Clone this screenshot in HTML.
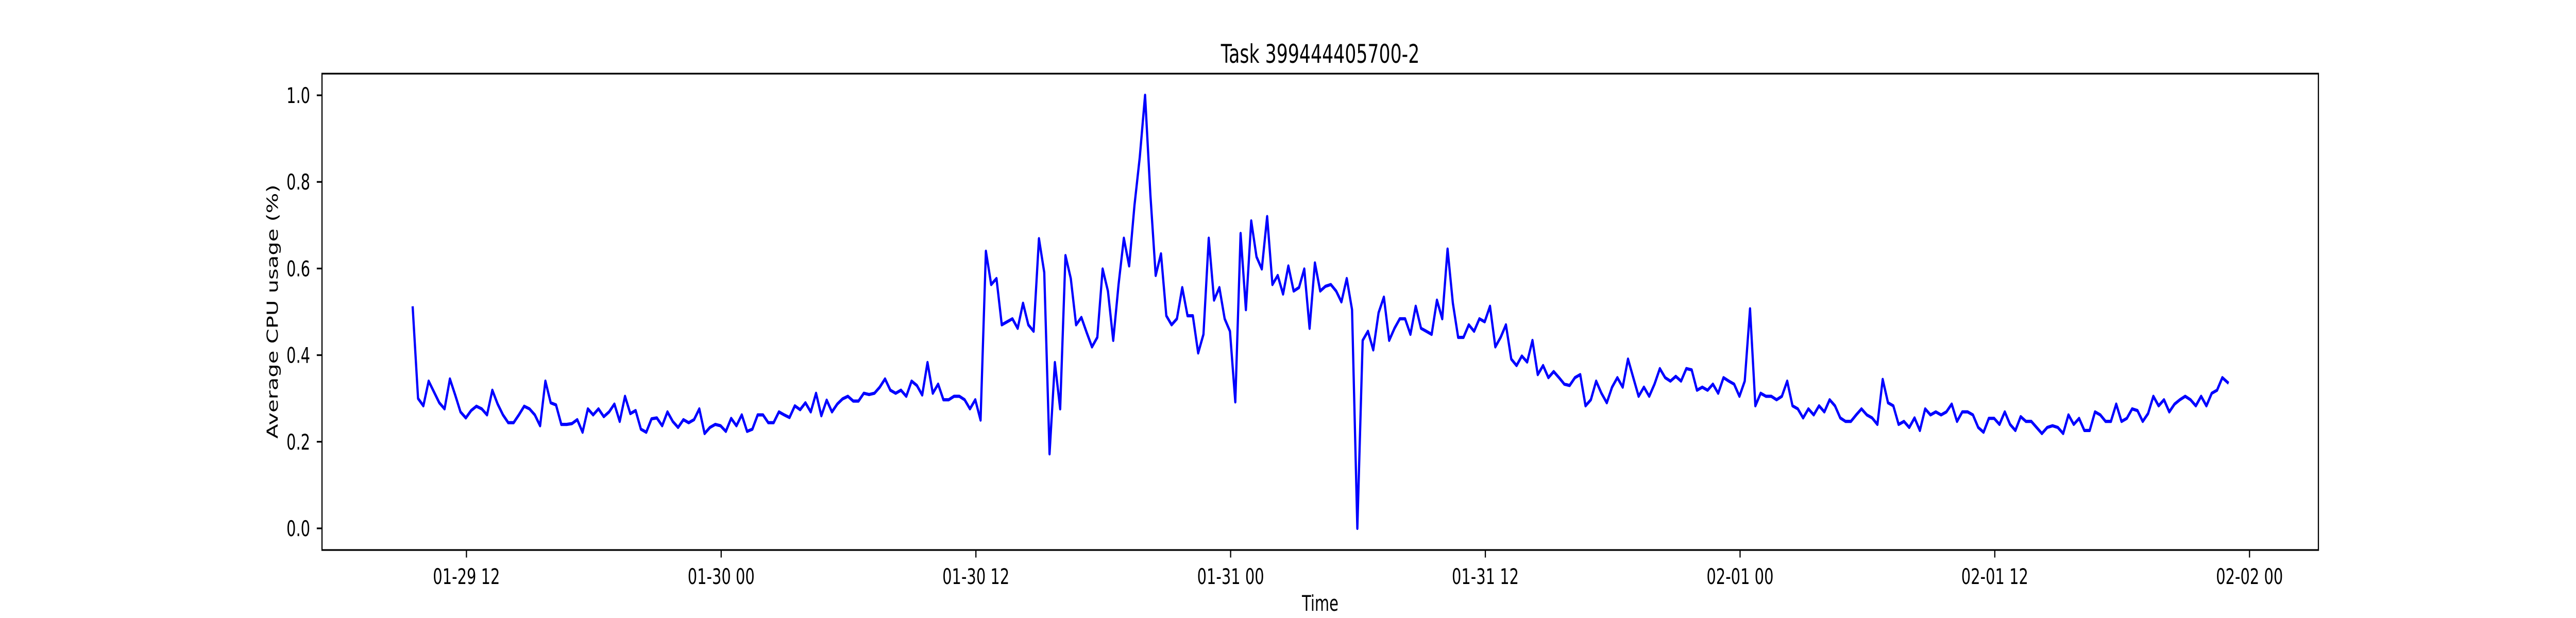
<!DOCTYPE html>
<html><head><meta charset="utf-8"><style>
html,body{margin:0;padding:0;background:#fff;width:100%;height:100%;overflow:hidden;}
svg{display:block;width:100vw;height:100vh;font-family:"DejaVu Sans","Liberation Sans",sans-serif;}
</style></head><body>
<svg id="chart" viewBox="0 0 7200 1200" preserveAspectRatio="none" xmlns="http://www.w3.org/2000/svg">
<rect x="0" y="0" width="7200" height="1200" fill="#fff"/>
<text x="3690" y="122" font-size="50" text-anchor="middle">Task 399444405700-2</text>
<text x="3690" y="1186" font-size="41.7" text-anchor="middle">Time</text>
<text x="0" y="0" font-size="41.7" text-anchor="middle" transform="translate(776,605) rotate(-90)">Average CPU usage (%)</text>
<g id="xticks"></g>
<g id="yticks"></g>
<path id="series" fill="none" stroke="#0000ff" stroke-width="6.25" stroke-linejoin="round" stroke-linecap="square"/>
<rect x="900" y="143" width="5580" height="925" fill="none" stroke="#000" stroke-width="3.3"/>
</svg>
<script>
// hours since 01-29 00:00
const startHour = 9.47;
const stepHours = 0.25;
const cpuValues = [
0.509,0.30,0.283,0.34,0.315,0.29,0.276,0.345,0.308,0.269,
0.255,0.272,0.282,0.276,0.262,0.319,0.287,0.262,0.244,0.244,
0.262,0.282,0.276,0.262,0.237,0.340,0.29,0.285,0.24,0.24,
0.242,0.251,0.222,0.276,0.262,0.276,0.258,0.269,0.287,0.247,
0.305,0.265,0.272,0.229,0.222,0.253,0.255,0.237,0.269,0.247,
0.233,0.251,0.244,0.251,0.276,0.219,0.233,0.240,0.237,0.224,
0.254,0.237,0.262,0.224,0.229,0.262,0.262,0.244,0.244,0.269,
0.262,0.256,0.283,0.274,0.290,0.269,0.312,0.260,0.296,0.269,
0.287,0.299,0.305,0.294,0.294,0.312,0.309,0.312,0.326,0.345,
0.319,
0.312,0.319,0.305,0.340,0.33,0.308,0.383,0.312,0.333,
0.297,0.297,0.305,0.305,0.297,0.276,0.297,0.25,0.64,0.563,
0.577,0.47,0.477,0.484,0.462,0.52,0.47,0.455,0.669,0.591,
0.172,0.383,0.276,0.63,0.577,0.47,0.487,0.452,0.419,0.441,
0.599,0.548,0.434,0.563,0.670,0.606,0.746,0.857,1.0,0.77,
0.584,0.634,0.491,0.47,0.484,0.556,0.491,0.491,0.405,0.448,
0.670,0.527,0.556,0.484,0.455,0.292,0.681,0.505,0.71,0.627,
0.599,0.72,0.563,0.584,0.541,0.606,0.548,0.556,0.599,0.462,
0.613,0.548,0.559,0.563,0.548,0.523,0.577,0.505,0.0,0.434,
0.455,0.412,0.498,0.534,0.434,0.462,
0.484,0.484,0.448,0.513,0.462,0.455,0.448,0.527,0.484,0.645,
0.52,0.441,0.441,0.47,0.455,0.484,0.477,0.513,0.419,0.441,
0.47,0.391,0.376,0.398,0.384,0.434,0.355,0.376,0.348,0.362,
0.348,0.333,0.33,0.348,0.355,0.283,0.297,0.34,0.312,0.29,
0.326,0.348,0.326,0.391,0.348,0.305,0.326,0.305,0.333,0.369,
0.348,0.34,0.351,0.34,0.369,0.366,0.319,0.326,0.319,0.333,
0.312,0.348,0.34,0.333,0.305,0.34,0.507,0.283,0.312,0.305,
0.305,0.297,0.305,0.34,0.283,0.276,0.255,0.276,0.262,0.283,
0.269,0.297,0.283,0.255,0.247,0.247,0.262,0.276,0.262,0.255,
0.240,0.344,0.29,0.283,
0.24,0.247,0.233,0.255,0.226,0.276,0.262,0.269,0.262,0.269,
0.287,0.247,0.269,0.269,0.262,0.233,0.222,0.254,0.254,0.24,
0.269,0.24,0.226,0.258,0.247,0.247,0.233,0.219,0.233,0.237,
0.233,0.219,0.262,0.24,0.254,0.226,0.226,0.269,0.262,0.247,
0.247,0.287,0.247,0.254,0.276,0.272,0.247,0.265,0.305,0.283,
0.297,0.269,0.287,0.297,0.305,0.297,0.283,0.305,0.283,0.312,
0.319,0.348,0.337
];
const xTickHours = [12,24,36,48,60,72,84,96];
const xTickLabels = ["01-29 12","01-30 00","01-30 12","01-31 00","01-31 12","02-01 00","02-01 12","02-02 00"];
const yTickValues = [0.0,0.2,0.4,0.6,0.8,1.0];
const yTickLabels = ["0.0","0.2","0.4","0.6","0.8","1.0"];

const NS = "http://www.w3.org/2000/svg";
const PL = 900, PR = 6480, PT = 143, PB = 1068;
const times = cpuValues.map((v, i) => startHour + i * stepHours);
const tMin = times[0], tMax = times[times.length - 1];
const tPad = (tMax - tMin) * 0.05;
const xDom = [tMin - tPad, tMax + tPad];
const vMin = Math.min(...cpuValues), vMax = Math.max(...cpuValues);
const vPad = (vMax - vMin) * 0.05;
const yDom = [vMin - vPad, vMax + vPad];
function xScale(h) { return PL + (h - xDom[0]) / (xDom[1] - xDom[0]) * (PR - PL); }
function yScale(v) { return PB - (v - yDom[0]) / (yDom[1] - yDom[0]) * (PB - PT); }

let d = "";
cpuValues.forEach((v, i) => {
  d += (i ? "L" : "M") + xScale(times[i]).toFixed(1) + " " + yScale(v).toFixed(1);
});
document.getElementById("series").setAttribute("d", d);

const xg = document.getElementById("xticks");
xTickHours.forEach((h, i) => {
  const x = xScale(h);
  const ln = document.createElementNS(NS, "line");
  ln.setAttribute("x1", x); ln.setAttribute("x2", x);
  ln.setAttribute("y1", PB); ln.setAttribute("y2", PB + 14.6);
  ln.setAttribute("stroke", "#000"); ln.setAttribute("stroke-width", "3.3");
  
  
  xg.appendChild(ln);
  const t = document.createElementNS(NS, "text");
  t.setAttribute("x", x); t.setAttribute("y", 1134);
  t.setAttribute("font-size", "41.7"); t.setAttribute("text-anchor", "middle");
  t.textContent = xTickLabels[i];
  
  
  xg.appendChild(t);
});

const yg = document.getElementById("yticks");
yTickValues.forEach((v, i) => {
  const y = yScale(v);
  const ln = document.createElementNS(NS, "line");
  ln.setAttribute("x1", PL - 14.6); ln.setAttribute("x2", PL);
  ln.setAttribute("y1", y); ln.setAttribute("y2", y);
  ln.setAttribute("stroke", "#000"); ln.setAttribute("stroke-width", "3.3");
  
  
  yg.appendChild(ln);
  const t = document.createElementNS(NS, "text");
  t.setAttribute("x", 867); t.setAttribute("y", y + 15);
  t.setAttribute("font-size", "41.7"); t.setAttribute("text-anchor", "end");
  t.textContent = yTickLabels[i];
  
  
  yg.appendChild(t);
});
</script>
</body></html>
